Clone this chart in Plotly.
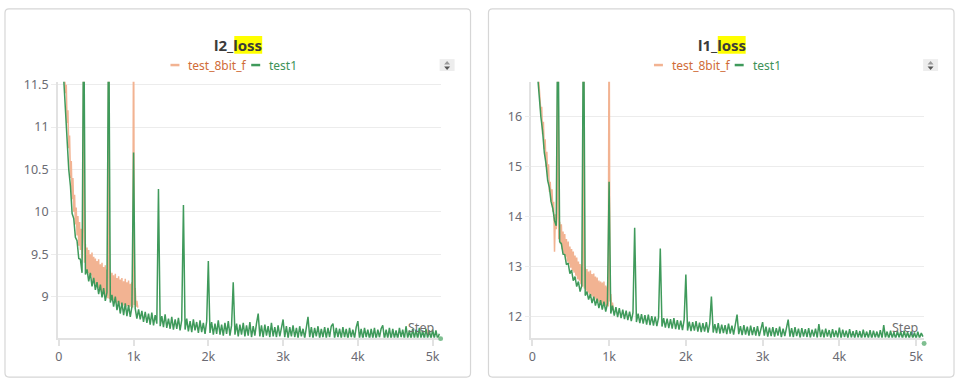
import plotly.graph_objects as go

# ---------------- data ----------------
steps_green = [round(i * 1000 / 45) for i in range(230)]
steps_orange = [round(i * 1000 / 90) for i in range(96)]

l2_test1 = [
    14.5, 13.3, 12.3, 11.55, 11.15, 10.9, 10.5, 10.3, 9.98, 9.92,
    9.7, 9.66, 9.45, 9.44, 9.28, 12.5, 9.26, 9.32, 9.18, 9.28,
    9.12, 9.22, 9.08, 9.17, 9.03, 9.14, 8.99, 9.1, 8.95, 9.05,
    12.5, 8.93, 9.02, 8.88, 9.0, 8.84, 8.95, 8.8, 8.93, 8.78,
    8.92, 8.77, 8.9, 8.76, 8.88, 10.7, 8.86, 8.74, 8.85, 8.73,
    8.83, 8.7, 8.82, 8.69, 8.8, 8.67, 8.81, 8.66, 8.78, 8.68,
    10.27, 8.65, 8.77, 8.64, 8.79, 8.63, 8.74, 8.62, 8.76, 8.61,
    8.73, 8.62, 8.75, 8.6, 8.72, 10.08, 8.61, 8.74, 8.59, 8.71,
    8.58, 8.73, 8.6, 8.7, 8.57, 8.72, 8.58, 8.69, 8.56, 8.71,
    9.42, 8.57, 8.7, 8.55, 8.68, 8.56, 8.72, 8.55, 8.67, 8.54,
    8.69, 8.56, 8.71, 8.54, 8.66, 9.17, 8.55, 8.68, 8.53, 8.67,
    8.55, 8.69, 8.53, 8.66, 8.54, 8.7, 8.52, 8.65, 8.54, 8.68,
    8.8, 8.53, 8.66, 8.52, 8.67, 8.54, 8.65, 8.52, 8.69, 8.53,
    8.64, 8.52, 8.66, 8.53, 8.63, 8.73, 8.52, 8.65, 8.51, 8.64,
    8.53, 8.66, 8.52, 8.63, 8.51, 8.65, 8.53, 8.62, 8.51, 8.66,
    8.76, 8.52, 8.64, 8.51, 8.63, 8.53, 8.65, 8.51, 8.62, 8.52,
    8.64, 8.51, 8.63, 8.52, 8.65, 8.68, 8.51, 8.63, 8.52, 8.62,
    8.51, 8.64, 8.52, 8.62, 8.5, 8.63, 8.52, 8.61, 8.51, 8.64,
    8.71, 8.51, 8.62, 8.5, 8.63, 8.52, 8.61, 8.5, 8.62, 8.51,
    8.63, 8.5, 8.61, 8.52, 8.62, 8.66, 8.5, 8.61, 8.51, 8.63,
    8.5, 8.62, 8.51, 8.6, 8.5, 8.63, 8.52, 8.61, 8.5, 8.65,
    8.51, 8.6, 8.5, 8.62, 8.51, 8.61, 8.5, 8.63, 8.51, 8.6,
    8.5, 8.62, 8.51, 8.6, 8.5, 8.61, 8.51, 8.6, 8.5, 8.56,
]

l2_test_8bit_f = [
    14.6, 14.0, 13.5, 13.0, 12.5, 12.1, 11.8, 11.6, 11.4, 11.5,
    11.05, 11.2, 10.75, 10.9, 10.4, 10.6, 10.15, 10.4, 10.0, 10.2,
    9.85, 10.05, 9.72, 9.95, 9.6, 9.88, 9.55, 9.8, 9.45, 9.7,
    12.5, 9.4, 9.62, 9.3, 9.58, 9.28, 9.55, 9.22, 9.5, 9.25,
    9.52, 9.18, 9.47, 9.15, 9.45, 9.12, 9.42, 9.1, 9.44, 9.08,
    9.38, 9.06, 9.4, 9.03, 9.35, 9.02, 9.37, 9.0, 9.32, 8.98,
    12.5, 8.97, 9.3, 8.95, 9.28, 8.96, 9.25, 8.93, 9.27, 8.92,
    9.22, 8.93, 9.24, 8.9, 9.2, 8.91, 9.22, 8.89, 9.18, 8.9,
    9.21, 8.88, 9.17, 8.89, 9.19, 8.87, 9.15, 8.88, 9.17, 8.87,
    12.5, 8.9, 9.1, 8.88, 8.95, 8.87,
]

l1_test1 = [
    20.0, 18.6, 17.6, 16.85, 16.4, 16.0, 15.72, 15.28, 15.06, 14.72,
    14.58, 14.3, 14.16, 13.92, 13.82, 18.5, 13.5, 13.46, 13.25, 13.24,
    13.04, 13.07, 12.86, 12.93, 12.72, 12.8, 12.6, 12.7, 12.5, 12.62,
    18.5, 12.42, 12.5, 12.34, 12.45, 12.27, 12.4, 12.22, 12.36, 12.17,
    12.33, 12.14, 12.3, 12.1, 12.26, 14.7, 12.06, 12.22, 12.02, 12.19,
    11.99, 12.17, 11.97, 12.14, 11.95, 12.12, 11.93, 12.1, 11.91, 12.08,
    13.78, 11.89, 12.06, 11.87, 12.05, 11.86, 12.03, 11.84, 12.04, 11.83,
    12.01, 11.82, 12.0, 11.81, 11.98, 13.36, 11.8, 11.97, 11.78, 11.96,
    11.77, 11.95, 11.76, 11.97, 11.75, 11.93, 11.74, 11.92, 11.73, 11.94,
    12.84, 11.72, 11.9, 11.71, 11.89, 11.72, 11.91, 11.7, 11.88, 11.69,
    11.87, 11.7, 11.89, 11.68, 11.86, 12.4, 11.68, 11.85, 11.67, 11.87,
    11.66, 11.84, 11.67, 11.83, 11.65, 11.86, 11.66, 11.82, 11.64, 11.84,
    12.04, 11.65, 11.81, 11.63, 11.83, 11.64, 11.8, 11.62, 11.82, 11.63,
    11.79, 11.62, 11.81, 11.61, 11.78, 11.89, 11.62, 11.8, 11.6, 11.78,
    11.61, 11.79, 11.6, 11.77, 11.62, 11.8, 11.59, 11.76, 11.61, 11.78,
    11.94, 11.6, 11.77, 11.59, 11.79, 11.61, 11.76, 11.58, 11.77, 11.6,
    11.75, 11.59, 11.77, 11.58, 11.74, 11.6, 11.76, 11.58, 11.85, 11.59,
    11.74, 11.58, 11.76, 11.6, 11.73, 11.57, 11.75, 11.59, 11.72, 11.58,
    11.78, 11.57, 11.74, 11.59, 11.72, 11.57, 11.75, 11.58, 11.71, 11.57,
    11.73, 11.58, 11.71, 11.56, 11.74, 11.58, 11.7, 11.57, 11.73, 11.56,
    11.72, 11.58, 11.7, 11.56, 11.73, 11.57, 11.83, 11.58, 11.7, 11.56,
    11.72, 11.57, 11.69, 11.56, 11.71, 11.58, 11.7, 11.56, 11.72, 11.57,
    11.69, 11.56, 11.7, 11.57, 11.68, 11.56, 11.7, 11.57, 11.67, 11.6,
]

l1_test_8bit_f = [
    20.2, 19.5, 18.9, 18.3, 17.9, 17.4, 17.1, 16.8, 16.5, 16.45,
    16.1, 16.2, 15.65, 15.9, 15.35, 15.55, 15.0, 15.3, 14.8, 15.05,
    14.5, 14.7, 14.3, 14.55, 14.1, 14.3, 13.3, 14.05, 13.75, 14.0,
    18.5, 13.55, 13.9, 13.45, 13.85, 13.35, 13.7, 13.25, 13.65, 13.2,
    13.55, 13.1, 13.5, 13.05, 13.4, 12.98, 13.35, 12.92, 13.3, 12.88,
    13.22, 12.82, 13.18, 12.75, 13.1, 12.72, 13.05, 12.65, 13.02, 12.6,
    18.5, 12.56, 12.98, 12.52, 12.95, 12.48, 12.9, 12.45, 12.92, 12.42,
    12.85, 12.4, 12.86, 12.36, 12.8, 12.34, 12.78, 12.3, 12.72, 12.28,
    12.7, 12.26, 12.68, 12.24, 12.7, 12.22, 12.62, 12.2, 12.6, 12.2,
    18.5, 12.3, 12.45, 12.2, 12.28, 12.12,
]

x_tickvals = [0, 1000, 2000, 3000, 4000, 5000]
x_ticktext = ["0", "1k", "2k", "3k", "4k", "5k"]
l2_tickvals = [9, 9.5, 10, 10.5, 11, 11.5]
l2_ticktext = ["9", "9.5", "10", "10.5", "11", "11.5"]
l1_tickvals = [12, 13, 14, 15, 16]
l1_ticktext = ["12", "13", "14", "15", "16"]
series_names = ["test_8bit_f", "test1"]

# ---------------- style ----------------
W, H = 959, 379
ORANGE_LINE = "#f2b392"
GREEN_LINE = "#3f9a5b"
ORANGE_TEXT = "#d06c38"
GREEN_TEXT = "#3d9157"
GRID = "#ececec"
AXIS = "#e2e2e2"
TICKFONT = dict(family="Noto Sans", size=12.5, color="#6b6b73")
FONT = "Noto Sans"


def px(x):
    return x / W


def py(y):
    return 1 - y / H


fig = go.Figure()

fig.add_trace(go.Scatter(x=steps_orange, y=l2_test_8bit_f, mode="lines", name=series_names[0],
                         line=dict(color=ORANGE_LINE, width=1.5), xaxis="x", yaxis="y", showlegend=False))
fig.add_trace(go.Scatter(x=steps_green, y=l2_test1, mode="lines", name=series_names[1],
                         line=dict(color=GREEN_LINE, width=1.5), xaxis="x", yaxis="y", showlegend=False))
fig.add_trace(go.Scatter(x=steps_orange, y=l1_test_8bit_f, mode="lines", name=series_names[0],
                         line=dict(color=ORANGE_LINE, width=1.5), xaxis="x2", yaxis="y2", showlegend=False))
fig.add_trace(go.Scatter(x=steps_green, y=l1_test1, mode="lines", name=series_names[1],
                         line=dict(color=GREEN_LINE, width=1.5), xaxis="x2", yaxis="y2", showlegend=False))

ydom = [py(337), py(77)]


def xaxis_cfg(dom, rng, anchor):
    return dict(domain=dom, range=rng, tickvals=x_tickvals, ticktext=x_ticktext,
                showgrid=False, zeroline=False, showline=True, linecolor=AXIS, linewidth=2,
                ticks="outside", ticklen=6, tickcolor=AXIS, tickwidth=1.5, tickfont=TICKFONT,
                anchor=anchor, fixedrange=True)


def yaxis_cfg(rng, tv, tt, anchor):
    return dict(domain=ydom, range=rng, tickvals=tv, ticktext=tt,
                showgrid=True, gridcolor=GRID, gridwidth=1, zeroline=False,
                showline=True, linecolor=AXIS, linewidth=1.5,
                ticks="outside", ticklen=5, tickcolor=GRID, tickfont=TICKFONT,
                anchor=anchor, fixedrange=True)


fig.update_layout(
    width=W, height=H, margin=dict(l=0, r=0, t=0, b=0),
    paper_bgcolor="white", plot_bgcolor="white",
    xaxis=xaxis_cfg([px(55), px(439)], [-13, 5107], "y"),
    yaxis=yaxis_cfg([8.515, 11.535], l2_tickvals, l2_ticktext, "x"),
    xaxis2=xaxis_cfg([px(530), px(924)], [-13, 5104], "y2"),
    yaxis2=yaxis_cfg([11.578, 16.70], l1_tickvals, l1_ticktext, "x2"),
    showlegend=False,
)

shapes = []
annotations = []


def card(x0, y0, x1, y1, r=4):
    path = (f"M {px(x0 + r)} {py(y0)} L {px(x1 - r)} {py(y0)} "
            f"Q {px(x1)} {py(y0)} {px(x1)} {py(y0 + r)} L {px(x1)} {py(y1 - r)} "
            f"Q {px(x1)} {py(y1)} {px(x1 - r)} {py(y1)} L {px(x0 + r)} {py(y1)} "
            f"Q {px(x0)} {py(y1)} {px(x0)} {py(y1 - r)} L {px(x0)} {py(y0 + r)} "
            f"Q {px(x0)} {py(y0)} {px(x0 + r)} {py(y0)} Z")
    shapes.append(dict(type="path", path=path, xref="paper", yref="paper",
                       line=dict(color="#d6d6d6", width=1.2), layer="below"))


def panel_deco(title_prefix, title_cx, hl_x0, hl_x1, leg, icon_cx, step_cx, dot):
    # yellow highlight behind "loss"
    shapes.append(dict(type="rect", xref="paper", yref="paper",
                       x0=px(hl_x0), x1=px(hl_x1), y0=py(48.5), y1=py(30.5),
                       fillcolor="#ffff00", line=dict(width=0), layer="below"))
    annotations.append(dict(text=f"<b>{title_prefix}loss</b>", x=px(title_cx), y=py(40),
                            xref="paper", yref="paper", showarrow=False,
                            font=dict(family=FONT, size=15, color="#3b3b3b"),
                            xanchor="center", yanchor="middle"))
    # legend
    (o0, o1, ot, g0, g1, gt) = leg
    ly = 60
    shapes.append(dict(type="line", xref="paper", yref="paper", x0=px(o0), x1=px(o1),
                       y0=py(ly), y1=py(ly), line=dict(color=ORANGE_LINE, width=2.5)))
    shapes.append(dict(type="line", xref="paper", yref="paper", x0=px(g0), x1=px(g1),
                       y0=py(ly), y1=py(ly), line=dict(color=GREEN_LINE, width=2.5)))
    annotations.append(dict(text=series_names[0], x=px(ot), y=py(ly + 0.5), xref="paper", yref="paper",
                            showarrow=False, xanchor="left", yanchor="middle",
                            font=dict(family=FONT, size=12, color=ORANGE_TEXT)))
    annotations.append(dict(text=series_names[1], x=px(gt), y=py(ly + 0.5), xref="paper", yref="paper",
                            showarrow=False, xanchor="left", yanchor="middle",
                            font=dict(family=FONT, size=12, color=GREEN_TEXT)))
    # sort icon
    shapes.append(dict(type="rect", xref="paper", yref="paper", x0=px(icon_cx - 7.5), x1=px(icon_cx + 7.5),
                       y0=py(66), y1=py(54), fillcolor="#ededed", line=dict(width=0)))
    shapes.append(dict(type="path", xref="paper", yref="paper",
                       path=f"M {px(icon_cx - 3)} {py(59.5)} L {px(icon_cx + 3)} {py(59.5)} L {px(icon_cx)} {py(56)} Z",
                       fillcolor="#9a9a9a", line=dict(width=0)))
    shapes.append(dict(type="path", xref="paper", yref="paper",
                       path=f"M {px(icon_cx - 3)} {py(61.5)} L {px(icon_cx + 3)} {py(61.5)} L {px(icon_cx)} {py(65)} Z",
                       fillcolor="#555555", line=dict(width=0)))
    # Step label
    annotations.append(dict(text="Step", x=px(step_cx), y=py(327), xref="paper", yref="paper",
                            showarrow=False, xanchor="center", yanchor="middle",
                            font=dict(family=FONT, size=12.5, color="#6f6f6f")))
    # end dot
    dx, dy = dot
    shapes.append(dict(type="circle", xref="paper", yref="paper",
                       x0=px(dx - 2.5), x1=px(dx + 2.5), y0=py(dy + 2.5), y1=py(dy - 2.5),
                       fillcolor="#7fbf91", line=dict(width=0)))


card(2, 3, 469, 377)
card(487, 3, 954, 377)
panel_deco("l2_", 235.5, 232, 260, (168, 177, 184, 249, 258, 265), 445.5, 419.5, (439, 338))
panel_deco("l1_", 721, 717, 745, (653, 662, 669, 734, 743, 750), 930.5, 904.5, (924, 343))

fig.update_layout(shapes=shapes, annotations=annotations)

POST = ("document.body.style.margin='0';"
        "var gd=document.getElementById('{plot_id}');"
        "gd.style.position='fixed';gd.style.left='0px';gd.style.top='0px';")
fig.write_html("out.html", post_script=POST, config={"displayModeBar": False})
